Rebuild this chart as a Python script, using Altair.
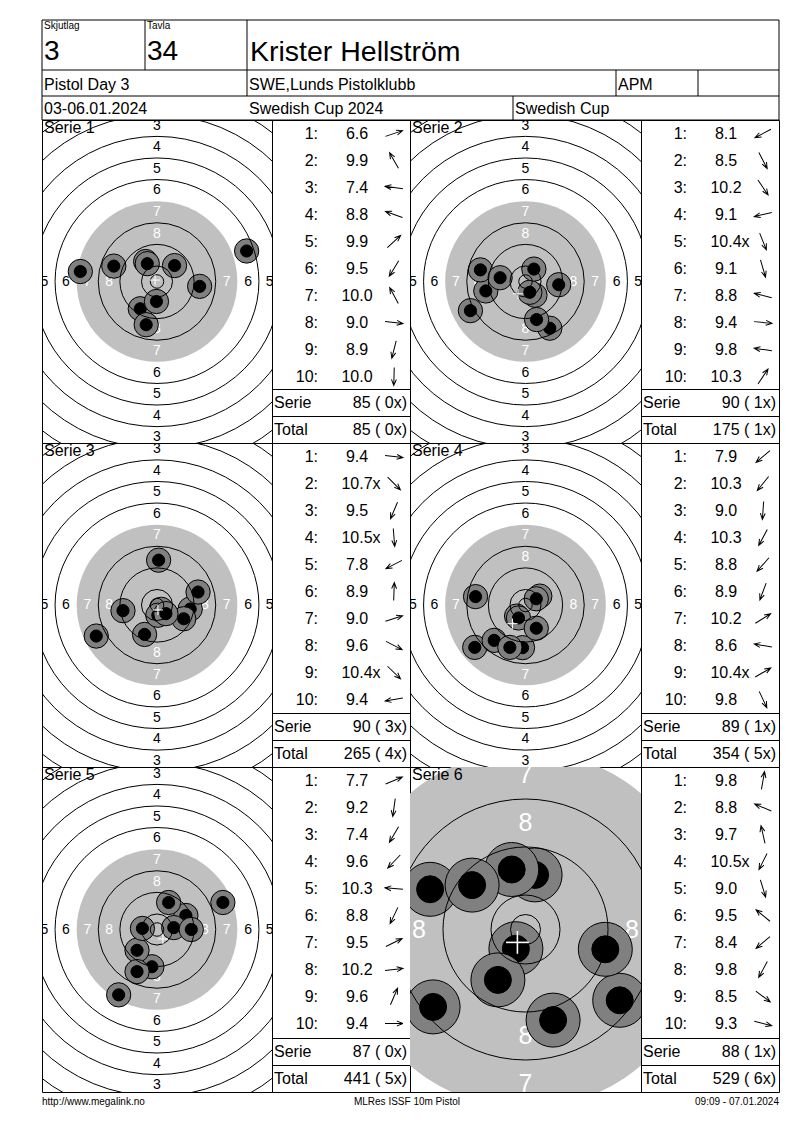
import altair as alt
import pandas as pd

FONT = "Liberation Sans"

# ---------------- header / footer texts ----------------
skjutlag_label, skjutlag = "Skjutlag", "3"
tavla_label, tavla = "Tavla", "34"
shooter = "Krister Hellström"
event = "Pistol Day 3"
club = "SWE,Lunds Pistolklubb"
klass = "APM"
dates = "03-06.01.2024"
competition = "Swedish Cup 2024"
cup = "Swedish Cup"
footer_left = "http://www.megalink.no"
footer_mid = "MLRes ISSF 10m Pistol"
footer_right = "09:09 - 07.01.2024"

# ---------------- series values (scores, inner-ten flags, shot x/y in mm) ----------------
s1_scores = [6.6, 9.9, 7.4, 8.8, 9.9, 9.5, 10.0, 9.0, 8.9, 10.0]
s1_inner = [0, 0, 0, 0, 0, 0, 0, 0, 0, 0]
s1_x = [33.2, -4.2, -28.4, -16.0, 6.5, -6.2, -3.6, 15.8, -4.0, -0.2]
s1_y = [11.3, 7.4, 3.7, 5.7, 5.9, -10.1, 6.6, -1.8, -16.0, -7.4]

s2_scores = [8.1, 8.5, 10.2, 9.1, 10.4, 9.1, 8.8, 9.4, 9.8, 10.3]
s2_inner = [0, 0, 0, 0, 1, 0, 0, 0, 0, 0]
s2_x = [-20.4, 9.0, 3.5, -14.7, 1.6, 4.1, -16.7, 12.3, -9.4, 3.1]
s2_y = [-10.8, -17.3, -5.1, -3.5, -4.0, -14.1, 4.3, -1.2, 1.4, 4.6]

s3_scores = [9.4, 10.7, 9.5, 10.5, 7.8, 8.9, 9.0, 9.6, 10.4, 9.4]
s3_inner = [0, 1, 0, 1, 0, 0, 0, 0, 1, 0]
s3_x = [12.3, 1.6, -4.6, 0.3, -22.5, 0.6, 15.2, 9.9, 3.3, -12.6]
s3_y = [-1.5, -1.6, -10.9, -3.8, -11.5, 16.6, 4.8, -5.1, -3.2, -2.1]

s4_scores = [7.9, 10.3, 9.0, 10.3, 8.8, 8.9, 10.2, 8.6, 10.4, 9.8]
s4_inner = [0, 0, 0, 0, 0, 0, 0, 0, 1, 0]
s4_x = [-18.8, -3.3, -1.1, -2.6, -11.6, -5.8, 5.3, -18.5, 4.0, 4.0]
s4_y = [-15.7, -4.1, -15.8, -4.8, -13.1, -15.7, 3.3, 3.1, 2.3, -8.6]

s5_scores = [7.7, 9.2, 7.4, 9.6, 10.3, 8.8, 9.5, 10.2, 9.6, 9.4]
s5_inner = [0, 0, 0, 0, 0, 0, 0, 0, 0, 0]
s5_x = [24.4, -1.9, -14.2, -7.4, -5.4, -7.4, 10.7, 6.2, 4.3, 12.7]
s5_y = [10.0, -13.8, -24.2, -7.7, 0.4, -15.6, 5.2, 0.7, 10.0, 0.0]

s6_scores = [9.8, 8.8, 9.7, 10.5, 9.0, 9.5, 8.4, 9.8, 8.5, 9.3]
s6_inner = [0, 0, 0, 1, 0, 0, 0, 0, 0, 0]
s6_x = [1.6, -15.9, -2.3, -1.6, 4.6, -8.9, -15.4, -4.6, 15.7, 13.3]
s6_y = [9.1, 6.7, 10.0, -3.2, -15.1, 7.4, -12.9, -8.4, -11.8, -3.3]

serie_sums = [85, 90, 90, 89, 87, 88]
serie_inner = [0, 1, 3, 1, 0, 1]
totals = [85, 175, 265, 354, 441, 529]
total_inner = [0, 1, 4, 5, 5, 6]

# ---------------- ISSF 10 m air pistol target geometry (mm) ----------------
ring_values = [1, 2, 3, 4, 5, 6, 7, 8, 9, 10]
ring_radii = [77.75, 69.75, 61.75, 53.75, 45.75, 37.75, 29.75, 21.75, 13.75, 5.75]
inner_ten_radius = 2.5
pellet_radius = 2.25
gauge_radius = 4.5
cross_half = 1.9

# ---------------- layout ----------------
TW = [230, 231]        # target panel widths (left, right)
TABW = 138             # score table width
FULLW = 737
HEAD_H = 100
FOOT_H = 18
ROW_H = [323, 324, 325]
ARROW = "M -1 0 L 1 0 M 0.32 -0.27 L 1 0 L 0.32 0.27"
NOSTROKE = alt.ViewBackground(stroke="transparent")


def target(n, xs, ys, w, h, k, lab_size, cross_w):
    hx, hy = w / 2 / k, h / 2 / k

    def X(f):
        return alt.X(f, scale=alt.Scale(domain=[-hx, hx], nice=False, zero=False), axis=None)

    def Y(f):
        return alt.Y(f, scale=alt.Scale(domain=[-hy, hy], nice=False, zero=False), axis=None)

    def S(f):
        return alt.Size(f, scale=alt.Scale(type="pow", exponent=2, domain=[0, 100],
                                           range=[0, (200 * k) ** 2]), legend=None)

    disk_df = pd.DataFrame({"x": [0.0], "y": [0.0], "r": [ring_radii[6]]})
    disk = alt.Chart(disk_df).mark_circle(color="#c0c0c0", opacity=1, clip=True).encode(
        X("x:Q"), Y("y:Q"), S("r:Q"))

    lab_rows = []
    for i, v in enumerate(ring_values[:8]):
        mid = (ring_radii[i] + ring_radii[i + 1]) / 2
        for dx, dy in [(0, 1), (0, -1), (1, 0), (-1, 0)]:
            lab_rows.append({"x": dx * mid, "y": dy * mid, "zone": v, "t": str(v)})
    labels = alt.Chart(pd.DataFrame(lab_rows)).mark_text(
        font=FONT, fontSize=lab_size, align="center", baseline="middle", clip=True
    ).encode(X("x:Q"), Y("y:Q"), text="t:N",
             color=alt.condition("datum.zone >= 7", alt.value("white"), alt.value("black")))

    shot_rows = []
    for i, (sx, sy) in enumerate(zip(xs, ys)):
        shot_rows.append({"x": sx, "y": sy, "r": gauge_radius, "part": "outer", "ord": 2 * i})
        shot_rows.append({"x": sx, "y": sy, "r": pellet_radius, "part": "inner", "ord": 2 * i + 1})
    shots = alt.Chart(pd.DataFrame(shot_rows)).mark_circle(
        opacity=1, stroke="black", strokeWidth=1, clip=True
    ).encode(X("x:Q"), Y("y:Q"), S("r:Q"),
             color=alt.Color("part:N", scale=alt.Scale(domain=["outer", "inner"],
                                                         range=["#808080", "#000000"]), legend=None),
             order=alt.Order("ord:Q"))

    line_r = [r for v, r in zip(ring_values, ring_radii) if v != 7] + [inner_ten_radius]
    rings_df = pd.DataFrame({"x": [0.0] * len(line_r), "y": [0.0] * len(line_r), "r": line_r})
    rings = alt.Chart(rings_df).mark_point(
        shape="circle", filled=False, stroke="black", color="black", strokeWidth=1, opacity=1, clip=True
    ).encode(X("x:Q"), Y("y:Q"), S("r:Q"))

    sdf = pd.DataFrame({"x": xs, "y": ys})
    mean = alt.Chart(sdf).transform_aggregate(mx="mean(x)", my="mean(y)").transform_calculate(
        x1=f"datum.mx - {cross_half}", x2=f"datum.mx + {cross_half}",
        y1=f"datum.my - {cross_half}", y2=f"datum.my + {cross_half}")
    hcross = mean.mark_rule(color="white", strokeWidth=cross_w, clip=True).encode(
        X("x1:Q"), x2="x2:Q", y=Y("my:Q"))
    vcross = mean.mark_rule(color="white", strokeWidth=cross_w, clip=True).encode(
        X("mx:Q"), Y("y1:Q"), y2="y2:Q")

    title = alt.Chart(pd.DataFrame({"t": [f"Serie {n}"]})).mark_text(
        align="left", baseline="middle", font=FONT, fontSize=16, color="black"
    ).encode(text="t:N", x=alt.value(2), y=alt.value(8))

    return alt.layer(disk, labels, shots, rings, hcross, vcross, title).properties(width=w, height=h)


def table(scores, inner, xs, ys, ssum, sin, tot, tin, w, h):
    df = pd.DataFrame({
        "shot": list(range(1, 11)),
        "lab": [f"{i}:" for i in range(1, 11)],
        "val": [f"{s:.1f}" for s in scores],
        "xm": ["x" if f else "" for f in inner],
        "x": xs, "y": ys,
    })
    Yb = alt.Y("shot:Q", scale=alt.Scale(domain=[0.5, 10.5], range=[0, 270], nice=False, zero=False),
               axis=None)
    base = alt.Chart(df)
    txt = dict(baseline="middle", font=FONT, fontSize=16, color="black")
    nums = base.mark_text(align="right", **txt).encode(x=alt.value(46), y=Yb, text="lab:N")
    vals = base.mark_text(align="center", **txt).encode(x=alt.value(85), y=Yb, text="val:N")
    xms = base.mark_text(align="left", **txt).encode(x=alt.value(100.5), y=Yb, text="xm:N")
    arrows = base.transform_calculate(
        ang="(360 - atan2(datum.y, datum.x) * 180 / PI) % 360"
    ).mark_point(shape=ARROW, filled=False, stroke="black", strokeWidth=1, opacity=1, size=324).encode(
        x=alt.value(122), y=Yb, angle=alt.Angle("ang:Q", scale=None))

    one = pd.DataFrame({"a": [0]})
    line1 = alt.Chart(one).mark_rule(color="black", strokeWidth=1).encode(
        x=alt.value(0), x2=alt.value(w), y=alt.value(h - 53.5))
    line2 = alt.Chart(one).mark_rule(color="black", strokeWidth=1).encode(
        x=alt.value(0), x2=alt.value(w), y=alt.value(h - 26.5))

    def t(s, x, y, align):
        return alt.Chart(pd.DataFrame({"t": [s]})).mark_text(align=align, **txt).encode(
            text="t:N", x=alt.value(x), y=alt.value(y))

    lab_s = t("Serie", 2, h - 40, "left")
    val_s = t(f"{ssum} ( {sin}x)", w - 3, h - 40, "right")
    lab_t = t("Total", 2, h - 13, "left")
    val_t = t(f"{tot} ( {tin}x)", w - 3, h - 13, "right")
    return alt.layer(nums, vals, xms, arrows, line1, line2, lab_s, val_s, lab_t, val_t).properties(
        width=w, height=h)


def text_layer(items):
    layers = []
    for s, x, y, size, align in items:
        layers.append(alt.Chart(pd.DataFrame({"t": [s]})).mark_text(
            align=align, baseline="middle", font=FONT, fontSize=size, color="black"
        ).encode(text="t:N", x=alt.value(x), y=alt.value(y)))
    return layers


def dummy(w, h):
    return alt.Chart(pd.DataFrame({"t": [""]})).mark_text(fontSize=1).encode(
        text="t:N", x=alt.value(w / 2), y=alt.value(h / 2)).properties(width=w, height=h, view=NOSTROKE)


# header: one cell whose frame lines are drawn as rules spanning the full width
hx1 = [0, 0, 0, 0, 0, FULLW, 103, 205, 205, 574, 656, 471]
hx2 = [FULLW, FULLW, FULLW, FULLW, 0, FULLW, 103, 205, 205, 574, 656, 471]
hy1 = [0, 50, 76, 100, 0, 0, 0, 0, 50, 50, 50, 76]
hy2 = [0, 50, 76, 100, 100, 100, 50, 50, 76, 76, 76, 100]
frame = alt.Chart(pd.DataFrame({"x1": hx1, "x2": hx2, "y1": hy1, "y2": hy2})).mark_rule(
    color="black", strokeWidth=1).encode(
    x=alt.X("x1:Q", scale=None), x2="x2:Q", y=alt.Y("y1:Q", scale=None), y2="y2:Q")
header = alt.layer(frame, *text_layer([
    (skjutlag_label, 2, 6, 10, "left"), (skjutlag, 2, 32, 28, "left"),
    (tavla_label, 105, 6, 10, "left"), (tavla, 105, 32, 28, "left"),
    (shooter, 208, 32, 28.5, "left"),
    (event, 2, 64.5, 16, "left"), (club, 207, 64.5, 16, "left"), (klass, 576, 64.5, 16, "left"),
    (dates, 2, 88.5, 16, "left"), (competition, 207, 88.5, 16, "left"), (cup, 473, 88.5, 16, "left"),
])).properties(width=TW[0], height=HEAD_H, view=NOSTROKE)

footer = alt.layer(*text_layer([
    (footer_left, 0, 10, 10, "left"), (footer_mid, 365, 10, 10, "center"),
    (footer_right, FULLW, 10, 10, "right"),
])).properties(width=TW[0], height=FOOT_H, view=NOSTROKE)

series = [
    (s1_scores, s1_inner, s1_x, s1_y),
    (s2_scores, s2_inner, s2_x, s2_y),
    (s3_scores, s3_inner, s3_x, s3_y),
    (s4_scores, s4_inner, s4_x, s4_y),
    (s5_scores, s5_inner, s5_x, s5_y),
    (s6_scores, s6_inner, s6_x, s6_y),
]

cells = [header, dummy(TABW, HEAD_H), dummy(TW[1], HEAD_H), dummy(TABW, HEAD_H)]
for r in range(3):
    h = ROW_H[r]
    for c in range(2):
        i = 2 * r + c
        sc, inn, xs, ys = series[i]
        zoomed = (i == 5)
        k = 6.0 if zoomed else 2.7
        cells.append(target(i + 1, xs, ys, TW[c], h, k, 25 if zoomed else 14, 1.6 if zoomed else 1))
        cells.append(table(sc, inn, xs, ys, serie_sums[i], serie_inner[i], totals[i], total_inner[i],
                           TABW, h))
cells += [footer, dummy(TABW, FOOT_H), dummy(TW[1], FOOT_H), dummy(TABW, FOOT_H)]

chart = alt.concat(*cells, columns=4, spacing=0, bounds="flush").resolve_scale(
    size="independent", x="independent", y="independent", color="independent"
).properties(
    padding={"left": 33, "top": 11, "right": 5, "bottom": 5},
    background="white",
).configure_view(stroke="black", strokeWidth=1)

chart.save("out.html", embed_options={"renderer": "svg", "actions": False})
